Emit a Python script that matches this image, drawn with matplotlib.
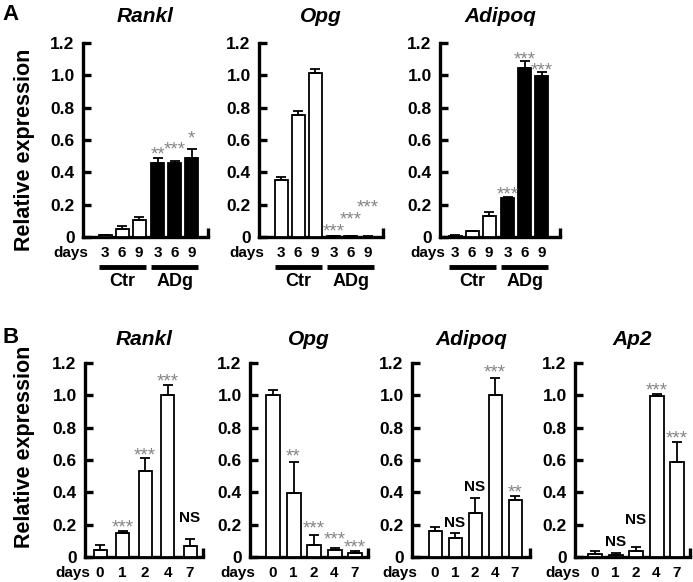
import matplotlib
matplotlib.use('Agg')
import matplotlib.pyplot as plt
from matplotlib.transforms import blended_transform_factory as btf

plt.rcParams['font.family'] = ['Liberation Sans', 'DejaVu Sans']

# ---------------- data ----------------
a_days = ['3', '6', '9', '3', '6', '9']
a_groups = ['Ctr', 'ADg']
a_fill = ['white', 'white', 'white', 'black', 'black', 'black']

a_rankl = [0.010, 0.050, 0.105, 0.455, 0.455, 0.490]
a_rankl_err = [0.003, 0.020, 0.020, 0.035, 0.015, 0.055]
a_rankl_sig = ['', '', '', '**', '***', '*']

a_opg = [0.350, 0.755, 1.015, 0.004, 0.006, 0.003]
a_opg_err = [0.020, 0.025, 0.027, 0.001, 0.001, 0.001]
a_opg_sig = ['', '', '', '***', '***', '***']

a_adipoq = [0.008, 0.035, 0.127, 0.240, 1.046, 0.995]
a_adipoq_err = [0.002, 0.004, 0.025, 0.010, 0.040, 0.025]
a_adipoq_sig = ['', '', '', '***', '***', '***']

b_days = ['0', '1', '2', '4', '7']

b_rankl = [0.045, 0.150, 0.530, 1.000, 0.065]
b_rankl_err = [0.027, 0.010, 0.080, 0.066, 0.045]
b_rankl_sig = ['', '***', '***', '***', 'NS']

b_opg = [1.000, 0.396, 0.076, 0.045, 0.025]
b_opg_err = [0.030, 0.194, 0.062, 0.011, 0.015]
b_opg_sig = ['', '**', '***', '***', '***']

b_adipoq = [0.160, 0.118, 0.270, 1.005, 0.355]
b_adipoq_err = [0.026, 0.031, 0.095, 0.105, 0.025]
b_adipoq_sig = ['', 'NS', 'NS', '***', '**']

b_ap2 = [0.019, 0.012, 0.040, 0.994, 0.590]
b_ap2_err = [0.016, 0.013, 0.020, 0.016, 0.120]
b_ap2_sig = ['', 'NS', 'NS', '***', '***']

yticks = [0, 0.2, 0.4, 0.6, 0.8, 1.0, 1.2]
ytick_labels = ['0', '0.2', '0.4', '0.6', '0.8', '1.0', '1.2']

# ---------------- figure ----------------
W, H = 693, 582
fig = plt.figure(figsize=(W / 100, H / 100), dpi=100)
PT = 0.72  # points per pixel
LW = 2.4


def panel(L, R, Y0, YT, first, step, bw, xs, labels, vals, errs, fills, sigs,
          lifts, title, tpad, groups=None):
    ax = fig.add_axes([L / W, 1 - Y0 / H, (R - L) / W, (Y0 - YT) / H])
    hpx = Y0 - YT
    ax.set_xlim((L - first) / step, (R - first) / step)
    ax.set_ylim(0, 1.2)
    w = bw / step
    ax.bar(xs, vals, width=w, color=fills, edgecolor='black', linewidth=1.3,
           zorder=3)
    ax.errorbar(xs, vals, yerr=[[0] * len(vals), errs], fmt='none',
                ecolor='black', elinewidth=1.3, capsize=3.6, capthick=1.3,
                zorder=4)
    for s in ['top', 'right']:
        ax.spines[s].set_visible(False)
    for s in ['left', 'bottom']:
        ax.spines[s].set_linewidth(LW)
    ax.spines['left'].set_bounds(0, 1.2)
    ax.set_xticks([])
    ax.set_yticks(yticks)
    ax.set_yticklabels(ytick_labels, fontsize=12.5, fontweight='bold')
    ax.tick_params(axis='y', direction='in', length=6, width=LW, pad=6)
    # right end tick of x axis
    ax.plot([1, 1], [0, 9 / hpx], transform=ax.transAxes, color='black',
            lw=LW, clip_on=False, solid_capstyle='butt')
    bt = btf(ax.transData, ax.transAxes)
    for x, lab in zip(xs, labels):
        ax.annotate(lab, (x, 0), xycoords=bt, xytext=(0, -16 * PT),
                    textcoords='offset points', ha='center', va='center',
                    fontsize=11, fontweight='bold')
    ax.annotate('days', (0, 0), xycoords='axes fraction',
                xytext=(5 * PT, -16 * PT), textcoords='offset points',
                ha='right', va='center', fontsize=11, fontweight='bold')
    if groups:
        for name, (s, e) in groups:
            ax.plot([xs[s] - w / 2, xs[e] + w / 2], [-30 / hpx] * 2,
                    transform=bt, color='black', lw=3.5, clip_on=False,
                    solid_capstyle='butt')
            ax.text((xs[s] + xs[e]) / 2, -45 / hpx, name, transform=bt,
                    ha='center', va='center', fontsize=13, fontweight='bold')
    for i, s in enumerate(sigs):
        if not s:
            continue
        top = vals[i] + errs[i]
        if s == 'NS':
            ax.text(xs[i], top + 0.036 + lifts[i], s, ha='center',
                    va='baseline', fontsize=11, fontweight='bold',
                    color='black')
        else:
            ax.text(xs[i], top - 0.01 + lifts[i], s, ha='center',
                    va='baseline', fontsize=13.5, color='#858585')
    ax.text(0.5, 1 + tpad / hpx, title, transform=ax.transAxes, ha='center',
            va='baseline', fontsize=15, fontweight='bold', style='italic')
    return ax


xa = [0, 1, 2, 3.1, 4.1, 5.1]
xb = [0, 1, 2, 3, 4]
grp = [(a_groups[0], (0, 2)), (a_groups[1], (3, 5))]

# Row A
panel(83, 208, 237, 43, 105, 17, 13, xa, a_days, a_rankl, a_rankl_err,
      a_fill, a_rankl_sig, [0, 0, 0, 0, 0.05, 0.045], 'Rankl', 21, grp)
panel(259, 383, 237, 43, 281, 17, 13, xa, a_days, a_opg, a_opg_err,
      a_fill, a_opg_sig, [0, 0, 0, 0.007, 0.08, 0.156], 'Opg', 21, grp)
panel(440, 560, 237, 43, 455, 17, 13, xa, a_days, a_adipoq, a_adipoq_err,
      a_fill, a_adipoq_sig, [0, 0, 0, -0.01, -0.01, -0.01], 'Adipoq', 21, grp)

# Row B
panel(85, 203, 557, 363, 100, 22.5, 13, xb, b_days, b_rankl, b_rankl_err,
      ['white'] * 5, b_rankl_sig, [0, 0, 0, 0, 0.07], 'Rankl', 18)
panel(250, 368, 557, 363, 273, 20.5, 14, xb, b_days, b_opg, b_opg_err,
      ['white'] * 5, b_opg_sig, [0, 0.014, 0.02, 0.03, 0], 'Opg', 18)
panel(412, 530, 557, 363, 435, 20, 13, xb, b_days, b_adipoq, b_adipoq_err,
      ['white'] * 5, b_adipoq_sig, [0, 0, 0.01, 0.01, 0], 'Adipoq', 18)
panel(575, 690, 557, 363, 595, 20.5, 14, xb, b_days, b_ap2, b_ap2_err,
      ['white'] * 5, b_ap2_sig, [0, 0.01, 0.11, 0, 0], 'Ap2', 18)

fig.text(25 / W, 1 - 150 / H, 'Relative expression', rotation=90,
         ha='center', va='center', fontsize=15.5, fontweight='bold')
fig.text(25 / W, 1 - 447 / H, 'Relative expression', rotation=90,
         ha='center', va='center', fontsize=15.5, fontweight='bold')
fig.text(2 / W, 1 - 20 / H, 'A', fontsize=16, fontweight='bold',
         va='baseline', ha='left')
fig.text(2 / W, 1 - 343 / H, 'B', fontsize=16, fontweight='bold',
         va='baseline', ha='left')

fig.savefig('out.png', dpi=100)
